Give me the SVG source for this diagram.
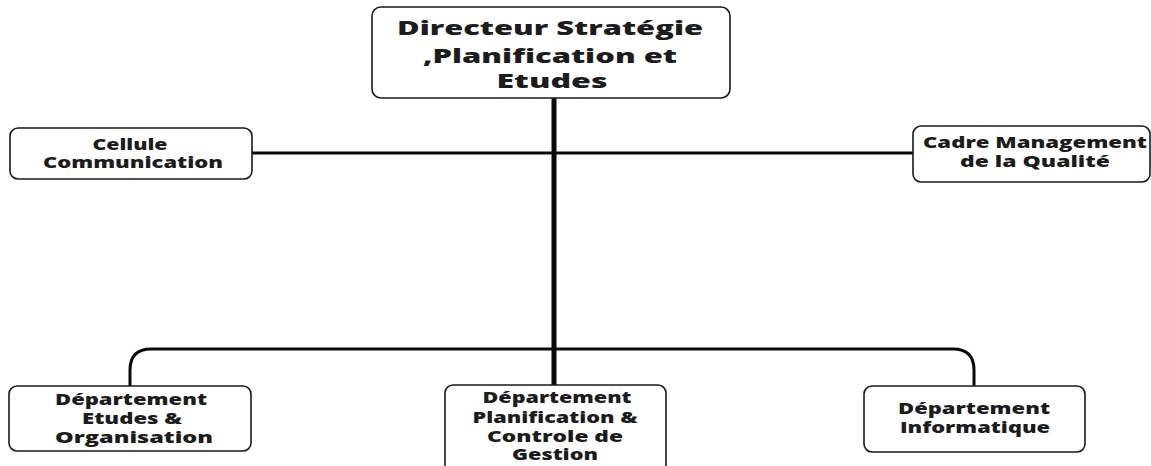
<svg xmlns="http://www.w3.org/2000/svg" width="1151" height="466" viewBox="0 0 1151 466">
  <style>
    .box { fill: #ffffff; stroke: #1a1a1a; stroke-width: 1.6; }
    .lbl { font-family: "Open Sans", "Liberation Sans", sans-serif; font-weight: 800; fill: #1c1c1c; text-anchor: middle; }
    .big { font-size: 19px; }
    .sm { font-size: 16px; }
    .wire { fill: none; stroke: #0a0a0a; stroke-linecap: butt; }
  </style>
  <rect width="1151" height="466" fill="#ffffff"/>

  <!-- connectors -->
  <g id="connectors">
    <line class="wire" x1="252" y1="153" x2="913" y2="153" stroke-width="3"/>
    <path class="wire" d="M130,386 V370 Q130,349 151,349 H953 Q974,349 974,370 V386" stroke-width="3"/>
    <line class="wire" x1="554" y1="98" x2="554" y2="386" stroke-width="5"/>
  </g>

  <!-- top: director -->
  <g id="directeur">
    <rect class="box" x="372" y="7" width="358" height="91" rx="9"/>
    <text class="lbl big" x="550" y="35" textLength="306" lengthAdjust="spacingAndGlyphs">Directeur Stratégie</text>
    <text class="lbl big" x="550" y="63" textLength="254" lengthAdjust="spacingAndGlyphs">,Planification et</text>
    <text class="lbl big" x="552" y="88" textLength="111" lengthAdjust="spacingAndGlyphs">Etudes</text>
  </g>

  <!-- staff units -->
  <g id="cellule-communication">
    <rect class="box" x="10" y="128" width="242" height="51" rx="8"/>
    <text class="lbl sm" x="130" y="150" textLength="75" lengthAdjust="spacingAndGlyphs">Cellule</text>
    <text class="lbl sm" x="133" y="168" textLength="180" lengthAdjust="spacingAndGlyphs">Communication</text>
  </g>
  <g id="cadre-qualite">
    <rect class="box" x="913" y="126" width="237" height="56" rx="8"/>
    <text class="lbl sm" x="1035" y="148" textLength="224" lengthAdjust="spacingAndGlyphs">Cadre Management</text>
    <text class="lbl sm" x="1035" y="167" textLength="150" lengthAdjust="spacingAndGlyphs">de la Qualité</text>
  </g>

  <!-- departments -->
  <g id="dept-etudes">
    <rect class="box" x="9" y="386" width="242" height="65" rx="8"/>
    <text class="lbl sm" x="131" y="405" textLength="152" lengthAdjust="spacingAndGlyphs">Département</text>
    <text class="lbl sm" x="132" y="424" textLength="100" lengthAdjust="spacingAndGlyphs">Etudes &amp;</text>
    <text class="lbl sm" x="134" y="443" textLength="158" lengthAdjust="spacingAndGlyphs">Organisation</text>
  </g>
  <g id="dept-planification">
    <rect class="box" x="445" y="385" width="221" height="90" rx="8"/>
    <text class="lbl sm" x="557" y="403" textLength="149" lengthAdjust="spacingAndGlyphs">Département</text>
    <text class="lbl sm" x="555" y="423" textLength="165" lengthAdjust="spacingAndGlyphs">Planification &amp;</text>
    <text class="lbl sm" x="555" y="442" textLength="136" lengthAdjust="spacingAndGlyphs">Controle de</text>
    <text class="lbl sm" x="555" y="460" textLength="86" lengthAdjust="spacingAndGlyphs">Gestion</text>
  </g>
  <g id="dept-informatique">
    <rect class="box" x="864" y="386" width="221" height="66" rx="8"/>
    <text class="lbl sm" x="974" y="414" textLength="152" lengthAdjust="spacingAndGlyphs">Département</text>
    <text class="lbl sm" x="975" y="433" textLength="150" lengthAdjust="spacingAndGlyphs">Informatique</text>
  </g>
</svg>
